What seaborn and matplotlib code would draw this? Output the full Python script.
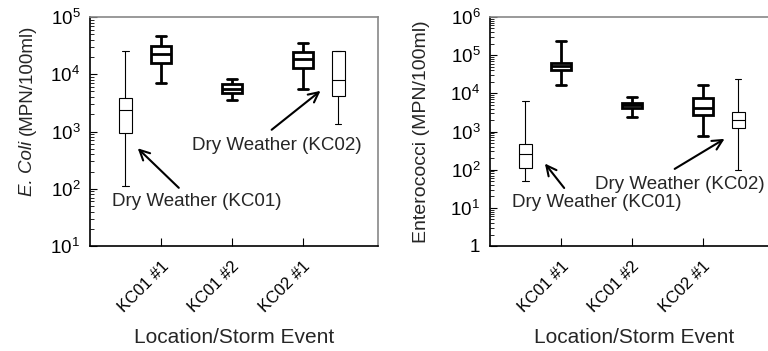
import numpy as np
import pandas as pd
import matplotlib
matplotlib.use("Agg")
import matplotlib.pyplot as plt
import seaborn as sns

# five-number summaries: min, q1, median, q3, max
event_labels = ["KC01 #1", "KC01 #2", "KC02 #1"]
storm_pos = [1, 2, 3]
dry_pos = [0.5, 3.5]

ecoli_storm = [
    [7000, 15500, 23000, 31000, 46000],
    [3600, 4650, 5600, 6700, 8200],
    [5500, 12900, 18500, 24300, 35000],
]
ecoli_dry = [
    [110, 950, 2400, 3800, 25000],
    [1350, 4100, 8000, 25000, 25000],
]
entero_storm = [
    [17000, 41000, 52000, 64000, 237000],
    [2400, 4200, 4900, 5600, 7900],
    [750, 2700, 4200, 7600, 16500],
]
entero_dry = [
    [52, 112, 260, 480, 6400],
    [100, 1270, 1950, 3150, 23500],
]


def to_frame(positions, summaries):
    rows = []
    for p, s in zip(positions, summaries):
        for v in s:
            rows.append({"pos": p, "value": v})
    return pd.DataFrame(rows)


sns.set_style("ticks")
plt.rcParams["font.family"] = ["Liberation Sans", "DejaVu Sans"]
plt.rcParams["mathtext.fontset"] = "custom"
plt.rcParams["mathtext.rm"] = "Liberation Sans"
plt.rcParams["mathtext.it"] = "Liberation Sans:italic"

fig = plt.figure(figsize=(7.68, 3.51), dpi=100)
W, H = 768, 351
ax1 = fig.add_axes([90 / W, (H - 246) / H, 288 / W, 229 / H])
ax2 = fig.add_axes([490 / W, (H - 246) / H, 288 / W, 229 / H])


def draw_panel(ax, storm, dry, ylim, yticklabels):
    sns.boxplot(data=to_frame(storm_pos, storm), x="pos", y="value", ax=ax,
                native_scale=True, orient="x", log_scale=(False, True),
                whis=(0, 100), showfliers=False, width=0.28,
                color="white", linecolor="black", linewidth=2.0)
    sns.boxplot(data=to_frame(dry_pos, dry), x="pos", y="value", ax=ax,
                native_scale=True, orient="x", log_scale=(False, True),
                whis=(0, 100), showfliers=False, width=0.06,
                color="white", linecolor="black", linewidth=0.8)
    ax.set_xlim(0, 4.06)
    ax.set_ylim(*ylim)
    ax.set_xticks(storm_pos)
    ax.set_xticklabels(event_labels, rotation=45, ha="right",
                       rotation_mode="anchor", fontsize=12)
    majors = [ylim[0] * 10 ** k for k in range(len(yticklabels))]
    ax.set_yticks(majors)
    ax.set_yticklabels(yticklabels, fontsize=13.5)
    ax.yaxis.set_minor_locator(matplotlib.ticker.LogLocator(base=10, subs=np.arange(2, 10)))
    ax.yaxis.set_minor_formatter(matplotlib.ticker.NullFormatter())
    ax.tick_params(axis="both", which="both", direction="in", colors="black")
    ax.tick_params(axis="y", which="major", length=5, pad=7)
    ax.tick_params(axis="y", which="minor", length=3)
    ax.tick_params(axis="x", which="major", length=6, pad=9)
    ax.set_xlabel("Location/Storm Event", fontsize=15, va="top")
    ax.xaxis.set_label_coords(0.5, -0.36)
    ax.set_ylabel("")
    for side in ["top", "right"]:
        ax.spines[side].set_color("#888888")
    for side in ["left", "bottom"]:
        ax.spines[side].set_color("black")
    for sp in ax.spines.values():
        sp.set_linewidth(1.2)


draw_panel(ax1, ecoli_storm, ecoli_dry, (10, 1e5),
           [r"$\mathregular{10^{%d}}$" % k for k in range(1, 6)])
draw_panel(ax2, entero_storm, entero_dry, (1, 1e6),
           ["1"] + [r"$\mathregular{10^{%d}}$" % k for k in range(1, 7)])

# left y label: italic species name followed by upright unit, stacked vertically
unit = fig.text(27 / W, 1 - 25 / H, "(MPN/100ml)", rotation=90,
                ha="center", va="top", fontsize=13.5)
renderer = fig.canvas.get_renderer()
unit_h = unit.get_window_extent(renderer).height
fig.text(27 / W, 1 - (25 + unit_h + 5) / H, "E. Coli", rotation=90,
         ha="center", va="top", fontsize=13.5, fontstyle="italic")
fig.text(421 / W, 1 - 132 / H, "Enterococci (MPN/100ml)", rotation=90,
         ha="center", va="center", fontsize=14)

arrow = dict(arrowstyle="->", color="black", lw=1.5, mutation_scale=18)
ax1.annotate("", xy=(0.645, 550), xytext=(1.28, 96), arrowprops=arrow)
ax1.text(1.51, 59, "Dry Weather (KC01)", ha="center", va="center", fontsize=13.5)
ax1.annotate("", xy=(3.28, 5500), xytext=(2.53, 1000), arrowprops=arrow)
ax1.text(2.63, 575, "Dry Weather (KC02)", ha="center", va="center", fontsize=13.5)

ax2.annotate("", xy=(0.75, 165), xytext=(1.07, 29), arrowprops=arrow)
ax2.text(1.51, 14, "Dry Weather (KC01)", ha="center", va="center", fontsize=13.5)
ax2.annotate("", xy=(3.34, 700), xytext=(2.57, 96), arrowprops=arrow)
ax2.text(2.67, 41, "Dry Weather (KC02)", ha="center", va="center", fontsize=13.5)

fig.savefig("out.png", dpi=100)
